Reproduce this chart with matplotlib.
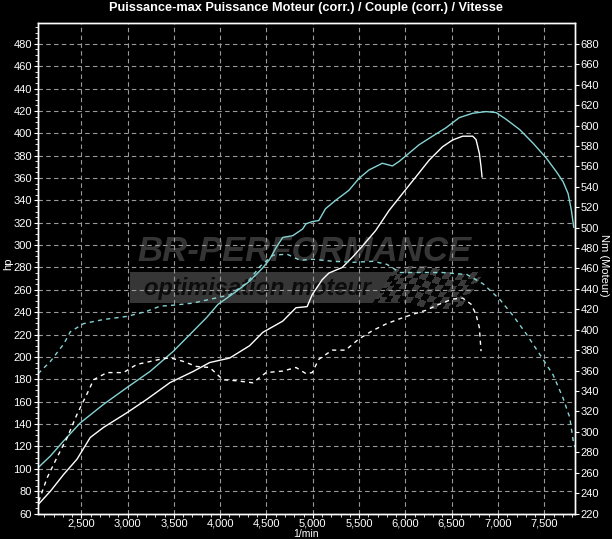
import matplotlib.pyplot as plt
import numpy as np
from matplotlib.ticker import FuncFormatter, MultipleLocator
from matplotlib.patches import Rectangle

plt.rcParams['font.family'] = ['Liberation Sans', 'DejaVu Sans']

# puissance (hp), run cyan
rpm_cyan = [2034, 2167, 2310, 2489, 2740, 2991, 3242, 3493, 3672, 3851, 3976, 4174, 4317,
            4460, 4532, 4604, 4676, 4783, 4890, 4926, 4993, 5065, 5137, 5246, 5390, 5499,
            5607, 5751, 5860, 5932, 6041, 6149, 6293, 6438, 6582, 6727, 6872, 6980, 7088,
            7233, 7377, 7522, 7630, 7703, 7757, 7793, 7818]
hp_cyan = [101, 111.5, 125, 141, 157.6, 172.5, 187, 205, 220, 235, 247, 258.6, 267.7,
           279.7, 287, 297.8, 306.9, 308.4, 314.4, 319, 321, 322, 332.5, 340, 349, 359.7,
           367.2, 373.2, 370.8, 374.8, 382.3, 389.8, 397.4, 404.9, 414, 417.9, 419.4, 418.5,
           412.5, 403.4, 391.3, 377.8, 365.7, 356.7, 346.1, 331, 316]

# puissance (hp), run blanc
rpm_white = [2034, 2167, 2310, 2453, 2597, 2740, 2991, 3206, 3457, 3708, 3887, 4102, 4317,
             4460, 4675, 4819, 4939, 4993, 5101, 5174, 5318, 5426, 5535, 5679, 5824, 5968,
             6113, 6257, 6402, 6510, 6619, 6727, 6763, 6799, 6817, 6828]
hp_white = [68, 80, 95, 108.5, 128, 137, 150, 162, 177, 187, 195, 199, 210,
            222, 232, 244, 245, 255.6, 269, 275, 280, 289, 299, 313, 331, 346,
            361, 376, 388, 394, 397.4, 397.4, 394.4, 382, 370, 361]

# couple (Nm), run cyan
rpm_cyan_tq = [2034, 2167, 2310, 2382, 2525, 2740, 2991, 3206, 3349, 3493, 3700, 3900, 4100,
               4290, 4430, 4570, 4722, 4862, 5002, 5218, 5434, 5650, 5801, 5942, 6158, 6400,
               6665, 6838, 7016, 7161, 7305, 7450, 7594, 7703, 7775, 7811, 7830]
nm_cyan = [357, 369, 386, 398, 406, 410, 413, 418, 423, 424, 426, 430, 434,
           446, 462, 473, 474, 468, 469, 467, 466, 467, 464, 456, 456, 456,
           454, 445, 430, 414, 396, 376, 356, 333, 314, 292, 285]

# couple (Nm), run blanc
rpm_white_tq = [2041, 2131, 2238, 2346, 2453, 2561, 2633, 2776, 2955, 3099, 3349, 3457, 3600,
                3744, 3887, 4030, 4174, 4353, 4496, 4676, 4819, 4926, 4993, 5065, 5210, 5354,
                5499, 5643, 5788, 5932, 6077, 6221, 6366, 6510, 6619, 6709, 6763, 6799, 6817]
nm_white = [232, 255, 275, 294, 317, 337, 351, 358, 358, 366, 371, 372.5, 369,
            364, 363, 351, 350, 348, 358, 359.5, 363, 357, 358, 371, 380, 380,
            391, 399, 405.5, 410.5, 415, 419, 425, 430, 431, 425, 415, 402, 379]

x_ticks = list(range(2500, 7501, 500))
hp_ticks = list(range(60, 481, 20))
nm_ticks = list(range(220, 681, 20))

cyan = "#86d3d3"
grid_col = "#9a9a9a"

fig = plt.figure(figsize=(6.12, 5.39), dpi=100)
fig.patch.set_facecolor("black")
ax = fig.add_axes([37.5 / 612, 1 - 513.5 / 539, (575.3 - 37.5) / 612, (513.5 - 23.4) / 539])
ax.patch.set_visible(False)
ax2 = ax.twinx()

# filigrane
def fx(px):
    return px / 612

def fy(py):
    return 1 - py / 539

fig.text(fx(304), fy(252), "BR-PERFORMANCE", color="#353535", fontsize=25, fontweight="bold",
         style="italic", ha="center", va="center", zorder=-2)
fig.patches.append(Rectangle((fx(130), fy(303)), fx(400) - fx(130), fy(272) - fy(303),
                             transform=fig.transFigure, facecolor="#363636", edgecolor="none",
                             zorder=-3))
fig.text(fx(257), fy(289), "optimisation moteur", color="#0c0c0c", fontsize=17, fontweight="bold",
         style="italic", ha="center", va="center", zorder=-2)
flag = fig.add_axes([fx(372), fy(309), fx(485) - fx(372), fy(266) - fy(309)])
flag.set_zorder(-1)
flag.axis("off")
u = np.linspace(0, 1, 15)
v = np.linspace(0, 1, 7)
U, V = np.meshgrid(u, v)
X = U + 0.25 * V
Y = V + 0.12 * np.sin(U * 2 * np.pi)
checks = (np.add.outer(np.arange(6), np.arange(14)) % 2).astype(float)
flag.pcolormesh(X, Y, checks, cmap=plt.matplotlib.colors.ListedColormap(["#050505", "#3a3a3a"]),
                shading="flat")
flag.set_xlim(0, 1.25)
flag.set_ylim(-0.12, 1.12)
flag.patch.set_visible(False)

ax.plot(rpm_cyan, hp_cyan, color=cyan, lw=1.0, zorder=3)
ax.plot(rpm_white, hp_white, color="white", lw=1.0, zorder=3)
ax2.plot(rpm_cyan_tq, nm_cyan, color=cyan, lw=1.0, dashes=(3, 3))
ax2.plot(rpm_white_tq, nm_white, color="white", lw=1.0, dashes=(3, 3))

ax.set_xlim(2027, 7835)
ax.set_ylim(60, 498.26)
ax2.set_ylim(220, 700)

ax.set_xticks(x_ticks)
ax.xaxis.set_major_formatter(FuncFormatter(lambda v, p: f"{int(v):,}"))
ax.xaxis.set_minor_locator(MultipleLocator(100))
ax.set_yticks(hp_ticks)
ax.yaxis.set_minor_locator(MultipleLocator(5))
ax2.set_yticks(nm_ticks)

ax.grid(True, color=grid_col, lw=0.8, dashes=(4, 3))

for a in (ax, ax2):
    for s in a.spines.values():
        s.set_color("white")
        s.set_linewidth(1.0)
    a.tick_params(colors="white", labelsize=8, length=3, width=0.8, pad=1)
    a.tick_params(which="minor", colors="white", length=2, width=0.6)
ax.tick_params(axis="x", pad=0.5)

# titres d'axes
fig.text(fx(8), fy(264), "hp", color="white", fontsize=8, rotation=90, ha="center", va="center")
fig.text(fx(604), fy(265), "Nm (Moteur)", color="white", fontsize=8, rotation=270,
         ha="center", va="center")
fig.text(fx(306), fy(534), "1/min", color="white", fontsize=7.5, ha="center", va="center")

fig.text(0.5, fy(8), "Puissance-max Puissance Moteur (corr.) / Couple (corr.) / Vitesse",
         color="white", fontsize=9.2, fontweight="bold", ha="center", va="center")

fig.savefig("out.png", dpi=100, facecolor="black")
